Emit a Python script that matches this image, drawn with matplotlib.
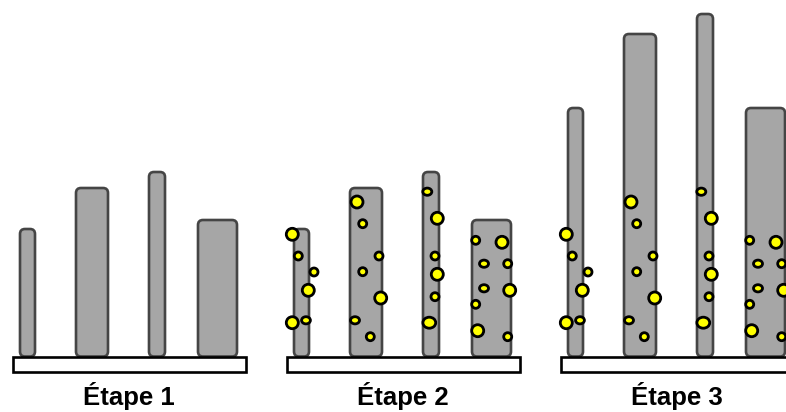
import matplotlib
matplotlib.use("Agg")
import matplotlib.pyplot as plt
from matplotlib.patches import FancyBboxPatch, Rectangle, Ellipse

# ---- data ----
stages = ["Étape 1", "Étape 2", "Étape 3"]
bar_heights = [
    [128, 169, 185, 137],   # Étape 1
    [128, 169, 185, 137],   # Étape 2
    [249, 323, 343, 249],   # Étape 3
]
show_bubbles = [False, True, True]

# bubbles (x within panel, height above base, width, height)
bubble_x = [18.3, 24.3, 40.0, 34.3, 18.3, 32.0,
            83.0, 88.7, 105.0, 88.7, 106.7, 81.0, 96.3,
            153.3, 163.3, 161.0, 163.3, 161.0, 155.3,
            201.7, 228.0, 210.0, 233.7, 210.0, 235.7, 201.7, 203.7, 233.7]
bubble_y = [122.7, 101.0, 85.0, 66.7, 34.3, 36.7,
            155.0, 133.3, 101.0, 85.3, 59.0, 36.7, 20.3,
            165.3, 138.7, 101.0, 82.7, 60.3, 34.3,
            116.7, 114.7, 93.3, 93.3, 68.7, 66.7, 52.7, 26.3, 20.3]
bubble_w = [12.0, 8.0, 8.0, 12.0, 12.0, 8.8,
            12.0, 8.0, 8.0, 8.0, 12.0, 9.0, 8.0,
            9.0, 12.0, 8.0, 12.0, 8.0, 12.8,
            8.0, 12.0, 9.0, 8.0, 9.0, 12.0, 8.0, 12.0, 8.0]
bubble_h = [12.0, 8.0, 8.0, 12.0, 12.0, 7.2,
            12.0, 8.0, 8.0, 8.0, 12.0, 7.2, 8.0,
            7.2, 12.0, 8.0, 12.0, 8.0, 11.0,
            8.0, 12.0, 7.2, 8.0, 7.2, 12.0, 8.0, 12.0, 8.0]

# ---- layout (pixel-like units) ----
panel_offset = 274
bar_centers = [27.5, 92.0, 157.0, 217.5]
bar_widths = [15.0, 32.0, 16.0, 39.0]
base_left, base_right, base_depth = 13.0, 246.0, 15.0

fig = plt.figure(figsize=(7.86, 4.12), dpi=100)
ax = fig.add_axes([0, 0, 1, 1])
ax.set_xlim(0, 786)
ax.set_ylim(-55, 357)
ax.axis("off")

for s, name in enumerate(stages):
    off = s * panel_offset
    for c, w, h in zip(bar_centers, bar_widths, bar_heights[s]):
        p = FancyBboxPatch((off + c - w / 2, 0.5), w, h - 0.5,
                           boxstyle="round,pad=0,rounding_size=5",
                           facecolor="#a6a6a6", edgecolor="#454545",
                           linewidth=1.9, zorder=2)
        ax.add_patch(p)
    ax.add_patch(Rectangle((off + base_left, -base_depth), base_right - base_left,
                           base_depth, facecolor="white", edgecolor="black",
                           linewidth=1.9, zorder=3))
    if show_bubbles[s]:
        for x, y, w, h in zip(bubble_x, bubble_y, bubble_w, bubble_h):
            ax.add_patch(Ellipse((off + x, y), w, h, facecolor="#ffff00",
                                 edgecolor="black", linewidth=2.0, zorder=4))
    ax.text(off + (base_left + base_right) / 2 - 1, -48, name,
            ha="center", va="baseline", fontsize=18.5, fontweight="bold",
            family=["Liberation Sans", "DejaVu Sans"], color="black")

fig.savefig("out.png", dpi=100)
